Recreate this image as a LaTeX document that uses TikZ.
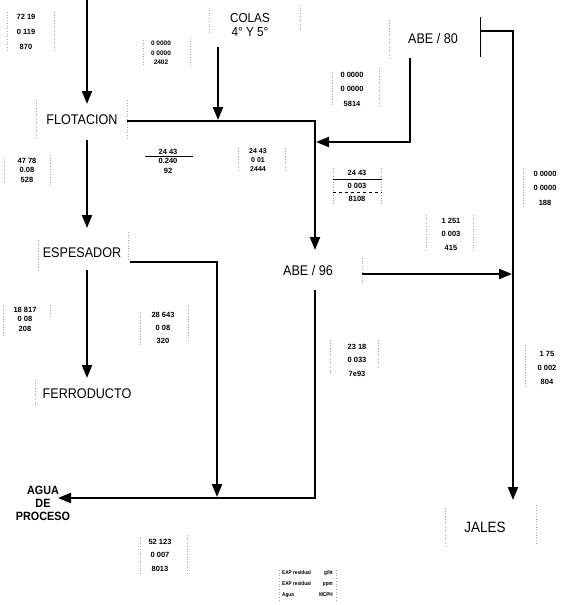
\documentclass[tikz,border=0pt]{standalone}
\usepackage{fontspec}
\setmainfont{Liberation Sans}
\newfontfamily\labf[FakeStretch=0.9]{Liberation Sans}
\newfontfamily\numf{Liberation Sans}
\newfontfamily\legf[FakeStretch=0.85]{Liberation Sans}
\usetikzlibrary{arrows.meta}
\begin{document}
\begin{tikzpicture}[x=1pt,y=-1pt,
  flow/.style={line width=2.2pt,-{Triangle[length=13pt,width=10pt]}},
  lab/.style={inner sep=0pt,font=\labf\fontsize{14}{14}\selectfont},
  agua/.style={inner sep=0pt,align=center,font=\labf\bfseries\fontsize{12}{13}\selectfont},
  num/.style={inner sep=0pt,align=center},
  leg/.style={inner sep=0pt,font=\legf\bfseries\fontsize{5.5}{11}\selectfont},
  bar/.style={gray!70,dotted,line width=0.7pt},
  thin/.style={line width=0.8pt}]
\useasboundingbox (0,0) rectangle (569,605);
\fill[white] (0,0) rectangle (569,605);

% ---- labels
\node[lab,align=center,font=\labf\fontsize{13}{14}\selectfont] (colas) at (250,25) {COLAS\\4\textdegree{} Y 5\textdegree};
\node[lab] (abe80) at (433,38) {ABE / 80};
\node[lab] (flot) at (82,120) {FLOTACION};
\node[lab] (esp) at (82,253) {ESPESADOR};
\node[lab] (ferro) at (87,394) {FERRODUCTO};
\node[lab] (abe96) at (308,270) {ABE / 96};
\node[lab,font=\labf\fontsize{15}{15}\selectfont] (jales) at (485,527) {JALES};
\node[agua] (agua) at (43,503) {AGUA\\DE\\PROCESO};

% ---- number blocks
\node[num,font=\numf\bfseries\fontsize{7.5}{15}\selectfont] (bA) at (26,32) {72 19\\0 119\\870};
\node[num,font=\numf\bfseries\fontsize{6.5}{9.5}\selectfont] (bB) at (161,53) {0 0000\\0 0000\\2402};
\node[num,font=\numf\bfseries\fontsize{7.5}{14.5}\selectfont] (bC) at (352,89) {0 0000\\0 0000\\5814};
\node[num,font=\numf\bfseries\fontsize{7.5}{9.5}\selectfont] (bD) at (27,170) {47 78\\0.08\\528};
\node[num,font=\numf\bfseries\fontsize{7.5}{9.5}\selectfont] (bE) at (168,161) {24 43\\0.240\\92};
\node[num,font=\numf\bfseries\fontsize{7}{9}\selectfont] (bF) at (258,160) {24 43\\0 01\\2444};
\node[num,font=\numf\bfseries\fontsize{7.5}{13}\selectfont] (bG) at (357,186) {24 43\\0 003\\8108};
\node[num,font=\numf\bfseries\fontsize{7.5}{14.5}\selectfont] (bH) at (545,188) {0 0000\\0 0000\\188};
\node[num,font=\numf\bfseries\fontsize{7.5}{13.5}\selectfont] (bI) at (451,234) {1 251\\0 003\\415};
\node[num,font=\numf\bfseries\fontsize{7.5}{9.5}\selectfont] (bJ) at (25,319) {18 817\\0 08\\208};
\node[num,font=\numf\bfseries\fontsize{7.5}{13}\selectfont] (bK) at (163,328) {28 643\\0 08\\320};
\node[num,font=\numf\bfseries\fontsize{7.5}{13.5}\selectfont] (bL) at (357,360) {23 18\\0 033\\7e93};
\node[num,font=\numf\bfseries\fontsize{7.5}{14}\selectfont] (bM) at (547,368) {1 75\\0 002\\804};
\node[num,font=\numf\bfseries\fontsize{7.5}{13.5}\selectfont] (bN) at (160,555) {52 123\\0 007\\8013};

% ---- legend
\node[leg,align=left,anchor=west] (legL) at (282,584) {EAP residual\\EAP residual\\Agua};
\node[leg,align=right,anchor=east] (legR) at (333,584) {g/ht\\ppm\\MCPH};

% ---- dotted frame marks
\foreach \x/\a/\b in {7/12/52, 54/12/52, 143/40/66, 190/38/66, 332/72/106, 379/68/108,
  4/158/184, 50/155/185, 238/148/172, 285/148/170, 333/168/204, 381/168/204,
  523/168/208, 426/215/252, 473/215/252, 3/305/335, 50/305/318, 140/312/345, 188/305/342,
  330/340/375, 378/340/368, 525/345/388, 140/538/575, 187/535/575, 279/570/600, 336/570/600,
  36/100/140, 127/100/140, 38/240/270, 128/232/260, 35/380/405, 362/258/285,
  209/10/32, 300/5/30, 389/20/58, 445/508/547, 536/505/545}
  \draw[bar] (\x,\a) -- (\x,\b);
\draw[thin] (480,17) -- (480,57);
\draw[thin] (145,156) -- (193,156);
\draw[thin] (333,179) -- (382,179);
\draw[thin,dashed] (333,192) -- (382,192);

% ---- connectors
\coordinate (topin) at (87,0);
\coordinate (flotN) at (87,104);
\draw[flow] (topin) -- (flotN);

\coordinate (colasS) at (218,47);
\coordinate (colasJ) at (218,120);
\draw[flow] (colasS) -- (colasJ);

\coordinate (flotE) at (127,121);
\coordinate (j1) at (315,121);
\coordinate (abe96N) at (315,250);
\draw[flow] (flotE) -- (j1) -- (abe96N);

\coordinate (abe80S) at (410,58);
\coordinate (j2) at (410,142);
\coordinate (j3) at (316,142);
\draw[flow] (abe80S) -- (j2) -- (j3);

\coordinate (abe80E) at (480,31);
\coordinate (j4) at (513,31);
\coordinate (jalesN) at (513,500);
\draw[flow] (abe80E) -- (j4) -- (jalesN);

\coordinate (flotS) at (87,140);
\coordinate (espN) at (87,228);
\draw[flow] (flotS) -- (espN);

\coordinate (espE) at (130,262);
\coordinate (j5) at (217,262);
\coordinate (j6) at (217,497);
\draw[flow] (espE) -- (j5) -- (j6);

\coordinate (espS) at (87,270);
\coordinate (ferroN) at (87,378);
\draw[flow] (espS) -- (ferroN);

\coordinate (abe96E) at (362,274);
\coordinate (j7) at (512,274);
\draw[flow] (abe96E) -- (j7);

\coordinate (abe96S) at (315,290);
\coordinate (j8) at (315,498);
\coordinate (aguaE) at (58,498);
\draw[flow] (abe96S) -- (j8) -- (aguaE);
\end{tikzpicture}
\end{document}
